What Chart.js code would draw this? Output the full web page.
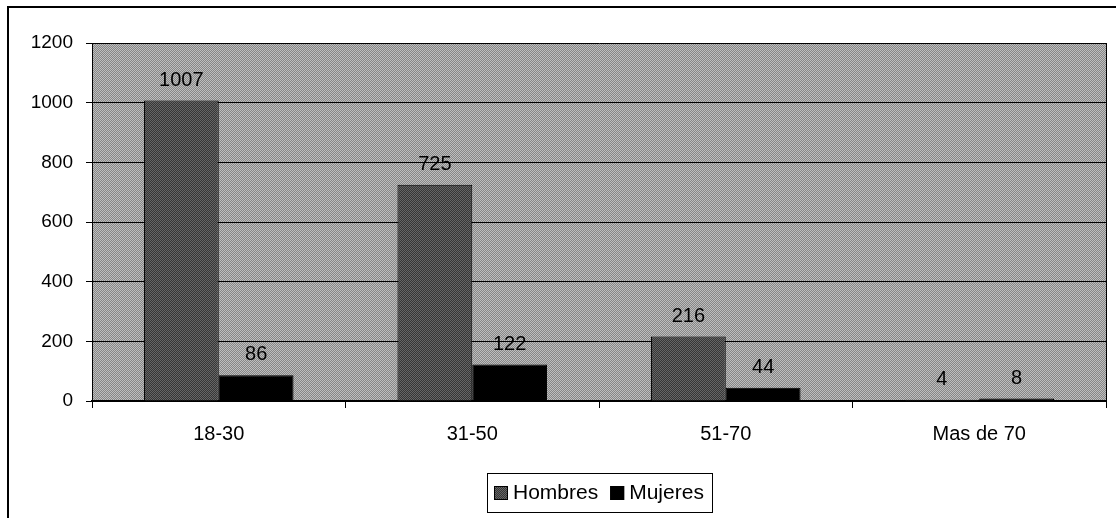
<!DOCTYPE html>
<html lang="es">
<head>
  <meta charset="UTF-8">
  <title>Hombres y Mujeres por edad</title>
  <script src="https://cdn.jsdelivr.net/npm/chart.js@4/dist/chart.umd.min.js"></script>
  <style>
    html, body { margin: 0; padding: 0; background: #fff; }
    #wrap { position: relative; width: 1116px; height: 518px; }
    #frame { position: absolute; left: 7px; top: 6px; width: 1120px; height: 530px; border: 2px solid #000; box-sizing: border-box; }
    canvas { position: absolute; left: 0; top: 0; }
  </style>
</head>
<body>
<div id="wrap">
  <div id="frame"></div>
  <canvas id="myChart" width="1116" height="518"></canvas>
</div>
<script>
  var categories = ['18-30', '31-50', '51-70', 'Mas de 70']
  var hombres = [1007, 725, 216, 4]
  var mujeres = [86, 122, 44, 8]
  var yTicks = [0, 200, 400, 600, 800, 1000, 1200]

  var FONT = '"Liberation Sans", Arial, sans-serif'

  // dithered fills, like the old scanned print
  function dither(a, b) {
    var c = document.createElement('canvas')
    c.width = 4; c.height = 4
    var g = c.getContext('2d')
    for (var i = 0; i < 4; i++) {
      for (var j = 0; j < 4; j++) {
        g.fillStyle = (i + j) % 2 ? a : b
        g.fillRect(i, j, 1, 1)
      }
    }
    return g.createPattern(c, 'repeat')
  }
  var plotFill = dither('#868686', '#bebebe')
  var hombresFill = dither('#363636', '#666666')

  var plotBg = {
    id: 'plotBg',
    beforeDraw: function (chart) {
      var a = chart.chartArea, ctx = chart.ctx
      ctx.save()
      ctx.fillStyle = plotFill
      ctx.fillRect(a.left, a.top, a.right - a.left, a.bottom - a.top)
      ctx.strokeStyle = '#000'
      ctx.lineWidth = 1
      ctx.beginPath()
      ctx.moveTo(a.right + 0.5, a.top)
      ctx.lineTo(a.right + 0.5, a.bottom)
      ctx.stroke()
      ctx.restore()
    }
  }

  var valueLabels = {
    id: 'valueLabels',
    afterDatasetsDraw: function (chart) {
      var ctx = chart.ctx
      ctx.save()
      ctx.font = '20px ' + FONT
      ctx.fillStyle = '#000'
      ctx.textAlign = 'center'
      ctx.textBaseline = 'alphabetic'
      chart.data.datasets.forEach(function (ds, i) {
        chart.getDatasetMeta(i).data.forEach(function (bar, j) {
          ctx.fillText(ds.data[j], bar.x, bar.y - 15)
        })
      })
      ctx.restore()
    }
  }

  // boxed legend under the plot, centred on the plot area
  var boxedLegend = {
    id: 'boxedLegend',
    afterDraw: function (chart) {
      var ctx = chart.ctx, a = chart.chartArea
      var sets = chart.data.datasets
      ctx.save()
      ctx.font = '21px ' + FONT
      var sw = 14, gap = 5, between = 12, padL = 7, padR = 8
      var total = padL + padR
      sets.forEach(function (ds, i) {
        total += sw + gap + ctx.measureText(ds.label).width
        if (i < sets.length - 1) total += between
      })
      var left = Math.round((a.left + a.right) / 2 - total / 2)
      var top = 473, bottom = 512, mid = (top + bottom) / 2
      ctx.fillStyle = '#fff'
      ctx.fillRect(left, top, total, bottom - top)
      ctx.strokeStyle = '#000'
      ctx.lineWidth = 1
      ctx.strokeRect(left + 0.5, top + 0.5, Math.round(total), bottom - top)
      var x = left + padL
      ctx.textBaseline = 'middle'
      ctx.textAlign = 'left'
      sets.forEach(function (ds) {
        ctx.fillStyle = ds.backgroundColor
        ctx.fillRect(x, Math.round(mid - sw / 2), sw, sw)
        ctx.strokeRect(x + 0.5, Math.round(mid - sw / 2) + 0.5, sw - 1, sw - 1)
        x += sw + gap
        ctx.fillStyle = '#000'
        ctx.fillText(ds.label, x, mid + 1)
        x += ctx.measureText(ds.label).width + between
      })
      ctx.restore()
    }
  }

  var ctx = document.getElementById('myChart').getContext('2d')
  var chart = new Chart(ctx, {
    type: 'bar',
    data: {
      labels: categories,
      datasets: [{
        label: 'Hombres',
        data: hombres,
        backgroundColor: hombresFill,
        borderColor: '#000',
        borderWidth: 1
      }, {
        label: 'Mujeres',
        data: mujeres,
        backgroundColor: '#000',
        borderColor: '#000',
        borderWidth: 1
      }]
    },
    options: {
      responsive: false,
      animation: false,
      layout: { padding: { left: 20, top: 43, right: 10, bottom: 0 } },
      datasets: { bar: { categoryPercentage: 0.59, barPercentage: 1 } },
      plugins: {
        tooltip: { enabled: false },
        legend: { display: false }
      },
      scales: {
        x: {
          grid: { display: true, offset: true, drawOnChartArea: false, color: '#000', tickLength: 7, tickColor: '#000' },
          border: { color: '#000', width: 2 },
          ticks: {
            color: '#000',
            padding: 14,
            font: { family: FONT, size: 20 }
          },
          afterFit: function (s) { s.height = 117 }
        },
        y: {
          min: 0,
          max: 1200,
          afterBuildTicks: function (s) { s.ticks = yTicks.map(function (v) { return { value: v } }) },
          grid: { color: '#000', lineWidth: 1, tickLength: 6, tickColor: '#000' },
          border: { color: '#000', width: 1 },
          ticks: {
            color: '#000',
            padding: 13,
            font: { family: FONT, size: 19 },
            callback: function (v) { return String(v) }
          },
          afterFit: function (s) { s.width = 72 }
        }
      }
    },
    plugins: [plotBg, valueLabels, boxedLegend]
  })
</script>
</body>
</html>
